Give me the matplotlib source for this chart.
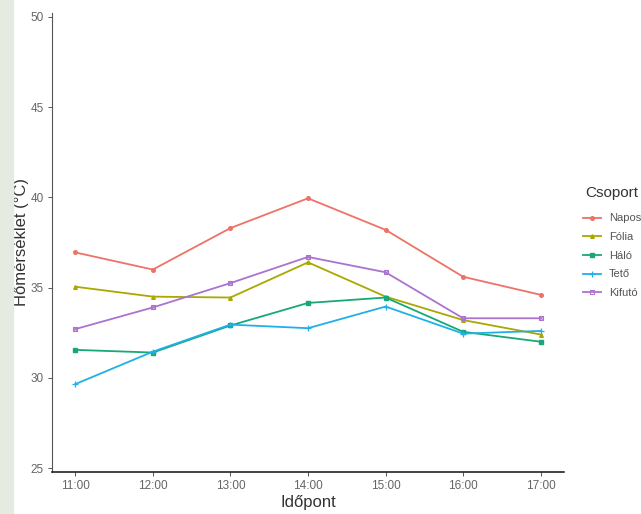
import matplotlib.pyplot as plt
from matplotlib.patches import Rectangle

plt.rcParams['font.family'] = ['Liberation Sans', 'DejaVu Sans']

# adatok
idopontok = ['11:00', '12:00', '13:00', '14:00', '15:00', '16:00', '17:00']
csoportok = ['Napos', 'Fólia', 'Háló', 'Tető', 'Kifutó']
napos = [36.95, 36.0, 38.3, 39.95, 38.2, 35.6, 34.6]
folia = [35.05, 34.5, 34.45, 36.4, 34.5, 33.2, 32.4]
halo = [31.55, 31.4, 32.9, 34.15, 34.45, 32.55, 32.0]
teto = [29.65, 31.45, 32.95, 32.75, 33.95, 32.45, 32.6]
kifuto = [32.7, 33.9, 35.25, 36.7, 35.85, 33.3, 33.3]

ertekek = [napos, folia, halo, teto, kifuto]
szinek = ['#ee7268', '#aaa800', '#17a878', '#1fb0ea', '#ab73cf']
jelek = ['o', '^', 's', '+', 's']

fig = plt.figure(figsize=(6.41, 5.14), dpi=100)
# halvany zold sav a bal szelen
fig.patches.append(Rectangle((0, 0), 13 / 641, 1, transform=fig.transFigure,
                             color='#e5ebe0', zorder=0))

ax = fig.add_axes([52 / 641, 1 - 472 / 514, (564 - 52) / 641, (472 - 13) / 514])

x = list(range(len(idopontok)))
for nev, y, c, m in zip(csoportok, ertekek, szinek, jelek):
    if nev == 'Kifutó':
        ax.plot(x, y, color=c, lw=1.3, marker='s', ms=3.5, mfc='none', mew=0.8, label=nev)
        ax.plot(x, y, color=c, lw=0, marker='x', ms=2.5, mew=0.6)
    elif m == '+':
        ax.plot(x, y, color=c, lw=1.3, marker=m, ms=4.5, mew=0.9, label=nev)
    else:
        ax.plot(x, y, color=c, lw=1.3, marker=m, ms=2.6, label=nev)

ax.set_xlim(-0.3, 6.3)
ax.set_ylim(24.78, 50.22)
ax.set_xticks(x)
ax.set_xticklabels(idopontok)
ax.set_yticks([25, 30, 35, 40, 45, 50])

for s in ['top', 'right']:
    ax.spines[s].set_visible(False)
ax.spines['left'].set_color('#555555')
ax.spines['left'].set_linewidth(0.8)
ax.spines['bottom'].set_color('#111111')
ax.spines['bottom'].set_linewidth(1.1)
ax.tick_params(axis='both', colors='#555555', labelcolor='#666666',
               labelsize=8.5, length=3, width=0.7, pad=3)

ax.set_xlabel('Időpont', fontsize=12, color='#333333')
ax.set_ylabel('Hőmérséklet (°C)', fontsize=12, color='#333333')
ax.xaxis.set_label_coords(0.5, -0.05)
ax.yaxis.set_label_coords(-0.045, 0.5)

fig.text(585 / 641, 1 - 193 / 514, 'Csoport', fontsize=11, color='#333333',
         ha='left', va='center')
leg = fig.legend(loc='upper left', bbox_to_anchor=(579 / 641, 1 - 209 / 514),
                 frameon=False, fontsize=8, handlelength=1.6, labelspacing=0.78,
                 handletextpad=0.7, borderaxespad=0)
for t in leg.get_texts():
    t.set_color('#555555')

fig.savefig('out.png', dpi=100)
